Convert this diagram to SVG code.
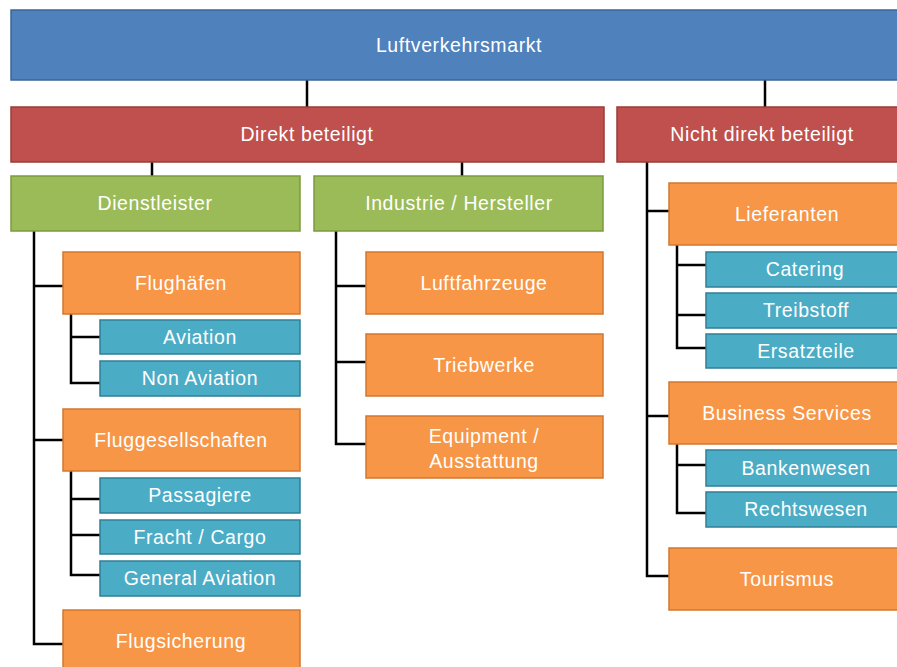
<svg xmlns="http://www.w3.org/2000/svg" width="897" height="667" viewBox="0 0 897 667">
<style>
text{font-family:"Liberation Sans",Arial,sans-serif;font-size:19.5px;fill:#fff;text-anchor:middle;letter-spacing:0.6px}
.b{fill:#4F81BD;stroke:#3B6696;stroke-width:1.5}
.r{fill:#C0504D;stroke:#9A3B39;stroke-width:1.5}
.g{fill:#9BBB59;stroke:#7B9A3C;stroke-width:1.5}
.o{fill:#F79646;stroke:#D3772E;stroke-width:1.5}
.t{fill:#4BACC6;stroke:#317F96;stroke-width:1.5}
#connectors path{fill:none;stroke:#000;stroke-width:2.5}
</style>
<g id="connectors">
<path d="M307 80V107M765 80V107"/>
<path d="M152 162V176M462 162V176"/>
<path d="M34 231V644H63M34 286H63M34 440H63"/>
<path d="M71 314V383H100M71 337H100"/>
<path d="M71 471V575H100M71 499H100M71 535H100"/>
<path d="M336 231V444H366M336 286H366M336 362H366"/>
<path d="M647 162V576H669M647 211H669M647 416H669"/>
<path d="M677 245V348H706M677 265H706M677 315H706"/>
<path d="M677 444V513H706M677 465H706"/>
</g>
<g id="luftverkehrsmarkt"><rect class="b" x="11" y="10" width="900" height="70"/><text x="459" y="52">Luftverkehrsmarkt</text></g>
<g id="direkt"><rect class="r" x="11" y="107" width="593" height="55"/><text x="307" y="141">Direkt beteiligt</text></g>
<g id="nichtdirekt"><rect class="r" x="617" y="107" width="300" height="55"/><text x="762" y="141">Nicht direkt beteiligt</text></g>
<g id="dienstleister"><rect class="g" x="11" y="176" width="289" height="55"/><text x="155" y="210">Dienstleister</text></g>
<g id="industrie"><rect class="g" x="314" y="176" width="289" height="55"/><text x="459" y="210">Industrie / Hersteller</text></g>
<g id="flughaefen"><rect class="o" x="63" y="252" width="237" height="62"/><text x="181" y="290">Flughäfen</text></g>
<g id="aviation"><rect class="t" x="100" y="320" width="200" height="34"/><text x="200" y="344">Aviation</text></g>
<g id="nonaviation"><rect class="t" x="100" y="361" width="200" height="35"/><text x="200" y="385">Non Aviation</text></g>
<g id="fluggesellschaften"><rect class="o" x="63" y="409" width="237" height="62"/><text x="181" y="447">Fluggesellschaften</text></g>
<g id="passagiere"><rect class="t" x="100" y="478" width="200" height="35"/><text x="200" y="502">Passagiere</text></g>
<g id="fracht"><rect class="t" x="100" y="520" width="200" height="34"/><text x="200" y="544">Fracht / Cargo</text></g>
<g id="generalaviation"><rect class="t" x="100" y="561" width="200" height="35"/><text x="200" y="585">General Aviation</text></g>
<g id="flugsicherung"><rect class="o" x="63" y="610" width="237" height="70"/><text x="181" y="648">Flugsicherung</text></g>
<g id="luftfahrzeuge"><rect class="o" x="366" y="252" width="237" height="62"/><text x="484" y="290">Luftfahrzeuge</text></g>
<g id="triebwerke"><rect class="o" x="366" y="334" width="237" height="62"/><text x="484" y="372">Triebwerke</text></g>
<g id="equipment"><rect class="o" x="366" y="416" width="237" height="62"/><text x="484" y="443">Equipment /</text><text x="484" y="468">Ausstattung</text></g>
<g id="lieferanten"><rect class="o" x="669" y="183" width="240" height="62"/><text x="787" y="221">Lieferanten</text></g>
<g id="catering"><rect class="t" x="706" y="252" width="200" height="35"/><text x="805" y="276">Catering</text></g>
<g id="treibstoff"><rect class="t" x="706" y="293" width="200" height="35"/><text x="806" y="317">Treibstoff</text></g>
<g id="ersatzteile"><rect class="t" x="706" y="334" width="200" height="34"/><text x="806" y="358">Ersatzteile</text></g>
<g id="business"><rect class="o" x="669" y="382" width="240" height="62"/><text x="787" y="420">Business Services</text></g>
<g id="bankenwesen"><rect class="t" x="706" y="450" width="200" height="36"/><text x="806" y="475">Bankenwesen</text></g>
<g id="rechtswesen"><rect class="t" x="706" y="492" width="200" height="35"/><text x="806" y="516">Rechtswesen</text></g>
<g id="tourismus"><rect class="o" x="669" y="548" width="240" height="62"/><text x="787" y="586">Tourismus</text></g>
</svg>
